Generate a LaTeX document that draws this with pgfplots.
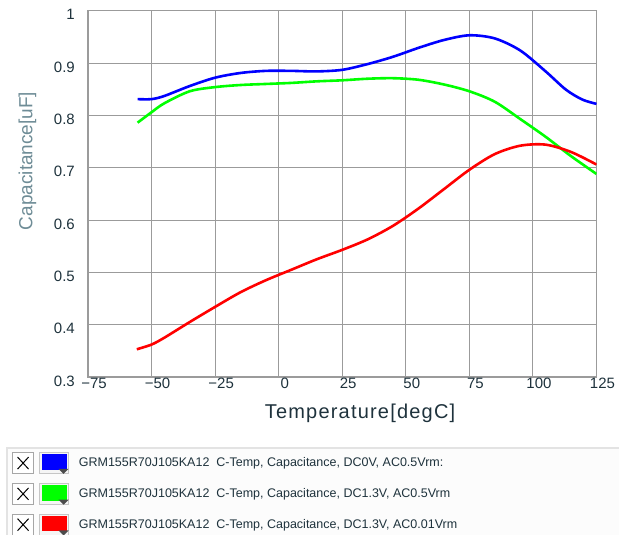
\documentclass[border=0pt]{standalone}
\usepackage{fontspec}
\setmainfont{Liberation Sans}
\usepackage{pgfplots}
\pgfplotsset{compat=1.18}
\definecolor{gridgray}{RGB}{155,155,155}
\definecolor{ticktxt}{RGB}{30,50,60}
\definecolor{labtxt}{RGB}{110,140,150}
\definecolor{cblue}{RGB}{0,0,255}
\definecolor{cgreen}{RGB}{0,255,0}
\definecolor{cred}{RGB}{255,0,0}

% C-Temp curves
\pgfplotstableread{
T v
-55.5 0.831
-50 0.831
-45 0.837
-35 0.856
-25 0.872
-15 0.881
-5 0.885
5 0.885
15 0.884
25 0.887
35 0.898
45 0.912
55 0.929
65 0.944
75 0.953
85 0.947
95 0.924
105 0.884
113 0.849
119.5 0.830
125 0.822
}\bluedata
\pgfplotstableread{
T v
-55.5 0.786
-50 0.806
-45 0.823
-35 0.846
-25 0.854
-15 0.858
-5 0.860
5 0.862
15 0.865
25 0.867
35 0.870
45 0.871
55 0.868
65 0.859
75 0.846
85 0.826
95 0.793
105 0.759
115 0.722
125 0.688
}\greendata
\pgfplotstableread{
T v
-55.8 0.353
-50 0.362
-45 0.375
-35 0.405
-25 0.434
-15 0.462
-5 0.485
5 0.505
15 0.525
25 0.543
35 0.563
45 0.589
55 0.622
65 0.659
75 0.696
85 0.726
95 0.742
105 0.744
115 0.730
125 0.706
}\reddata

\begin{document}
\begin{tikzpicture}
\useasboundingbox (-88pt,-158pt) rectangle (531pt,377pt);
% legend panel
\fill[gray!2] (-81pt,-71pt) rectangle (531pt,-158pt);
\draw[gray!22,line width=1.5pt] (-81pt,-158pt) -- (-81pt,-71pt) -- (531pt,-71pt);
\begin{axis}[
 scale only axis,width=508.5pt,height=366.3pt,
 xmin=-75,xmax=125,ymin=0.3,ymax=1,
 xtick={-75,-50,-25,0,25,50,75,100,125},
 xticklabels={−75,−50,−25,0,25,50,75,100,125},
 ytick={0.3,0.4,0.5,0.6,0.7,0.8,0.9,1},
 yticklabels={0.3,0.4,0.5,0.6,0.7,0.8,0.9,1},
 grid=major,major grid style={gridgray,line width=1pt},
 axis line style={gridgray,line width=1.2pt},
 major tick length=0pt,
 tick label style={font=\fontsize{15}{15}\selectfont,text=ticktxt,inner sep=0pt},
 xticklabel style={anchor=north,yshift=-0.5pt,xshift=6pt},
 yticklabel style={anchor=east,xshift=-13pt,yshift=-4pt},
 xlabel={\addfontfeatures{LetterSpace=6}Temperature[degC]},
 ylabel={Capacitance[uF]},
 xlabel style={font=\fontsize{20}{20}\selectfont,text=ticktxt,
   at={(axis description cs:0.535,-0.098)},anchor=center},
 ylabel style={font=\fontsize{19}{19}\selectfont,text=labtxt,
   at={(axis description cs:-0.119,0.59)},anchor=center},
 legend cell align=left,
 legend style={at={(axis description cs:-0.1495,-0.2047)},anchor=north west,
   draw=none,fill=none,inner sep=0pt,row sep=9pt,
   font=\fontsize{12.5}{14}\selectfont,text=ticktxt,
   nodes={inner sep=0pt}},
 legend image code/.code={
   \draw[gray!70,line width=0.8pt,fill=white] (0pt,-10.5pt) rectangle (21pt,10.5pt);
   \draw[black,line width=1pt] (5pt,-6pt) -- (16pt,6pt) (5pt,6pt) -- (16pt,-6pt);
   \draw[gray!45,line width=0.8pt,fill=gray!8] (27pt,-10.5pt) rectangle (56pt,10.5pt);
   \fill (31pt,-5.5pt) rectangle (53pt,7.5pt);
   \fill[black!70] (49pt,-7pt) -- (53pt,-7pt) -- (51pt,-9pt) -- cycle;
   \path (65pt,0pt);
 },
]
\addplot[color=cblue,line width=2.6pt,smooth] table[x=T,y=v] {\bluedata};
\addlegendentry{GRM155R70J105KA12\ \ C-Temp, Capacitance, DC0V, AC0.5Vrm:}
\addplot[color=cgreen,line width=2.6pt,smooth] table[x=T,y=v] {\greendata};
\addlegendentry{GRM155R70J105KA12\ \ C-Temp, Capacitance, DC1.3V, AC0.5Vrm}
\addplot[color=cred,line width=2.6pt,smooth] table[x=T,y=v] {\reddata};
\addlegendentry{GRM155R70J105KA12\ \ C-Temp, Capacitance, DC1.3V, AC0.01Vrm}
\end{axis}
\end{tikzpicture}
\end{document}
